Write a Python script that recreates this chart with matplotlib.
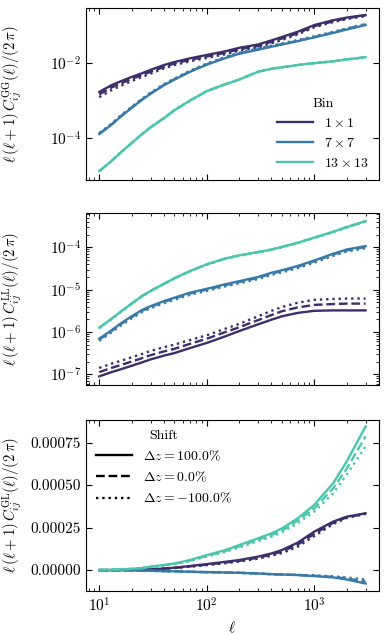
import matplotlib
matplotlib.use("Agg")
import matplotlib.pyplot as plt
import matplotlib.ticker as mticker
import numpy as np

plt.rcParams['font.family'] = 'serif'
plt.rcParams['font.serif'] = ['cmr10', 'DejaVu Serif']
plt.rcParams['mathtext.fontset'] = 'cm'
plt.rcParams['axes.unicode_minus'] = False
plt.rcParams['axes.formatter.use_mathtext'] = True

# Data
ell = [10, 13, 16, 20, 25, 30, 40, 50, 70, 100, 150, 200, 300, 400, 500, 700, 1000, 1500, 2000, 3000]
bins = [r'$1\times1$', r'$7\times7$', r'$13\times13$']
colors = ['#3b2f6b', '#3a78a8', '#4cc5ae']
shifts = [r'$\Delta z=100.0\%$', r'$\Delta z=0.0\%$', r'$\Delta z=-100.0\%$']
styles = ['-', '--', ':']

# log10 of GG spectra: [bin][shift]
gg_log = [
    [[-2.77, -2.59, -2.48, -2.37, -2.27, -2.18, -2.05, -1.97, -1.87, -1.78, -1.68, -1.59, -1.50, -1.39, -1.30, -1.16, -0.98, -0.85, -0.78, -0.71],
     [-2.84, -2.65, -2.54, -2.42, -2.32, -2.23, -2.10, -2.01, -1.91, -1.82, -1.72, -1.63, -1.54, -1.43, -1.34, -1.20, -1.01, -0.88, -0.80, -0.72],
     [-2.91, -2.72, -2.60, -2.48, -2.37, -2.28, -2.14, -2.05, -1.95, -1.86, -1.76, -1.67, -1.58, -1.47, -1.38, -1.23, -1.04, -0.90, -0.82, -0.74]],
    [[-3.90, -3.65, -3.42, -3.20, -2.98, -2.82, -2.59, -2.44, -2.23, -2.04, -1.86, -1.75, -1.64, -1.56, -1.50, -1.41, -1.31, -1.19, -1.10, -0.98],
     [-3.89, -3.64, -3.41, -3.19, -2.97, -2.81, -2.58, -2.43, -2.22, -2.03, -1.85, -1.74, -1.63, -1.55, -1.49, -1.40, -1.30, -1.18, -1.08, -0.96],
     [-3.87, -3.62, -3.39, -3.17, -2.95, -2.79, -2.56, -2.41, -2.20, -2.01, -1.83, -1.72, -1.61, -1.53, -1.47, -1.38, -1.28, -1.16, -1.07, -0.95]],
    [[-4.89, -4.62, -4.38, -4.14, -3.90, -3.72, -3.47, -3.26, -3.00, -2.75, -2.56, -2.44, -2.23, -2.15, -2.11, -2.05, -2.00, -1.95, -1.90, -1.84],
     [-4.89, -4.62, -4.38, -4.14, -3.90, -3.72, -3.47, -3.26, -3.00, -2.75, -2.56, -2.44, -2.23, -2.15, -2.11, -2.05, -2.00, -1.95, -1.90, -1.84],
     [-4.89, -4.62, -4.38, -4.14, -3.90, -3.72, -3.47, -3.26, -3.00, -2.75, -2.56, -2.44, -2.23, -2.15, -2.11, -2.05, -2.00, -1.95, -1.90, -1.84]],
]

# log10 of LL spectra: [bin][shift]
ll_log = [
    [[-7.05, -6.95, -6.88, -6.80, -6.72, -6.65, -6.56, -6.50, -6.38, -6.26, -6.10, -5.98, -5.82, -5.71, -5.63, -5.55, -5.50, -5.49, -5.49, -5.49],
     [-6.95, -6.85, -6.78, -6.70, -6.62, -6.55, -6.46, -6.40, -6.28, -6.16, -6.00, -5.89, -5.72, -5.60, -5.51, -5.42, -5.36, -5.34, -5.33, -5.33],
     [-6.85, -6.75, -6.68, -6.60, -6.52, -6.45, -6.36, -6.30, -6.19, -6.08, -5.92, -5.81, -5.63, -5.50, -5.41, -5.31, -5.24, -5.22, -5.21, -5.21]],
    [[-6.16, -5.96, -5.79, -5.63, -5.48, -5.39, -5.27, -5.19, -5.07, -4.98, -4.87, -4.80, -4.70, -4.60, -4.54, -4.44, -4.31, -4.15, -4.05, -3.97],
     [-6.18, -5.98, -5.81, -5.65, -5.50, -5.41, -5.29, -5.21, -5.09, -5.00, -4.89, -4.82, -4.72, -4.62, -4.56, -4.46, -4.33, -4.17, -4.07, -3.99],
     [-6.21, -6.01, -5.84, -5.68, -5.53, -5.44, -5.32, -5.24, -5.12, -5.03, -4.92, -4.85, -4.75, -4.65, -4.59, -4.49, -4.36, -4.20, -4.10, -4.02]],
    [[-5.90, -5.69, -5.51, -5.33, -5.15, -5.03, -4.86, -4.73, -4.56, -4.40, -4.26, -4.19, -4.11, -4.05, -3.99, -3.89, -3.77, -3.63, -3.52, -3.38],
     [-5.90, -5.69, -5.51, -5.33, -5.15, -5.03, -4.86, -4.73, -4.56, -4.40, -4.26, -4.19, -4.11, -4.05, -3.99, -3.89, -3.77, -3.63, -3.52, -3.38],
     [-5.91, -5.70, -5.52, -5.34, -5.16, -5.04, -4.87, -4.74, -4.57, -4.41, -4.27, -4.20, -4.12, -4.06, -4.00, -3.90, -3.78, -3.64, -3.53, -3.39]],
]

# GL spectra in units of 1e-4: [bin][shift]
gl_1e4 = [
    [[0.0, 0.0, 0.01, 0.02, 0.03, 0.05, 0.09, 0.14, 0.24, 0.35, 0.49, 0.59, 0.79, 0.98, 1.18, 1.61, 2.26, 2.85, 3.14, 3.34],
     [0.0, 0.0, 0.01, 0.02, 0.03, 0.05, 0.08, 0.13, 0.22, 0.32, 0.45, 0.54, 0.73, 0.91, 1.09, 1.49, 2.13, 2.78, 3.10, 3.32],
     [0.0, 0.0, 0.01, 0.02, 0.03, 0.04, 0.08, 0.12, 0.20, 0.29, 0.41, 0.50, 0.67, 0.84, 1.00, 1.37, 2.00, 2.71, 3.06, 3.30]],
    [[0.0, -0.005, -0.01, -0.02, -0.03, -0.04, -0.06, -0.07, -0.10, -0.12, -0.14, -0.16, -0.20, -0.24, -0.26, -0.29, -0.35, -0.43, -0.55, -0.79],
     [0.0, -0.005, -0.01, -0.02, -0.03, -0.04, -0.06, -0.07, -0.10, -0.12, -0.14, -0.16, -0.20, -0.24, -0.26, -0.29, -0.33, -0.40, -0.49, -0.67],
     [0.0, -0.005, -0.01, -0.02, -0.03, -0.04, -0.06, -0.07, -0.10, -0.12, -0.14, -0.16, -0.20, -0.24, -0.26, -0.28, -0.31, -0.37, -0.43, -0.55]],
    [[0.0, 0.02, 0.04, 0.07, 0.12, 0.20, 0.30, 0.39, 0.59, 0.88, 1.18, 1.47, 1.87, 2.16, 2.45, 3.04, 3.83, 5.11, 6.38, 8.44],
     [0.0, 0.02, 0.04, 0.07, 0.12, 0.19, 0.29, 0.37, 0.56, 0.84, 1.12, 1.40, 1.78, 2.06, 2.32, 2.91, 3.63, 4.81, 5.95, 7.86],
     [0.0, 0.02, 0.04, 0.07, 0.11, 0.18, 0.27, 0.35, 0.53, 0.80, 1.07, 1.33, 1.70, 1.96, 2.22, 2.75, 3.44, 4.52, 5.60, 7.27]],
]

fig = plt.figure(figsize=(3.87, 6.35), dpi=100)
left, width = 0.222, 0.757
ax1 = fig.add_axes([left, 0.717, width, 0.270])
ax2 = fig.add_axes([left, 0.394, width, 0.271])
ax3 = fig.add_axes([left, 0.069, width, 0.270])

for b in range(3):
    for s in range(3):
        ax1.plot(ell, 10 ** np.array(gg_log[b][s]), color=colors[b], ls=styles[s], lw=1.7)
        ax2.plot(ell, 10 ** np.array(ll_log[b][s]), color=colors[b], ls=styles[s], lw=1.7)
        ax3.plot(ell, np.array(gl_1e4[b][s]) * 1e-4, color=colors[b], ls=styles[s], lw=1.7)

ax1.set_yscale('log')
ax2.set_yscale('log')
for ax in (ax1, ax2, ax3):
    ax.set_xscale('log')
    ax.tick_params(which='both', direction='in', top=True, right=True, labelsize=11)
    ax.tick_params(which='major', length=4)
    ax.tick_params(which='minor', length=2)
ax1.set_xticklabels([])
ax2.set_xticklabels([])
ax1.set_ylim(10 ** -5.12, 10 ** -0.53)
ax1.set_yticks([1e-4, 1e-2])
ax1.yaxis.set_minor_locator(mticker.NullLocator())
ax2.set_ylim(10 ** -7.25, 10 ** -3.18)
ax3.set_ylim(-0.000124, 0.000884)
ax3.set_yticks([0, 0.00025, 0.0005, 0.00075])
ax3.set_yticklabels(['0.00000', '0.00025', '0.00050', '0.00075'])

ax1.set_ylabel(r'$\ell\,(\ell+1)\,C_{ij}^{\rm GG}(\ell)/(2\,\pi)$', fontsize=10.7)
ax2.set_ylabel(r'$\ell\,(\ell+1)\,C_{ij}^{\rm LL}(\ell)/(2\,\pi)$', fontsize=10.7)
ax3.set_ylabel(r'$\ell\,(\ell+1)\,C_{ij}^{\rm GL}(\ell)/(2\,\pi)$', fontsize=10.7)
ax3.set_xlabel(r'$\ell$', fontsize=11)
for ax in (ax1, ax2, ax3):
    ax.yaxis.set_label_coords(-0.21, 0.5)

# Legends
h1 = [plt.Line2D([], [], color=c, lw=1.7) for c in colors]
ax1.legend(h1, bins, title='Bin', loc='lower right', frameon=False, fontsize=10,
           title_fontsize=10, handlelength=2.6, borderaxespad=0.3)
h3 = [plt.Line2D([], [], color='black', ls=st, lw=1.7) for st in styles]
ax3.legend(h3, shifts, title='Shift', loc='upper left', frameon=False, fontsize=10,
           title_fontsize=10, handlelength=2.6, borderaxespad=0.3)

fig.savefig('out.png', dpi=100)
